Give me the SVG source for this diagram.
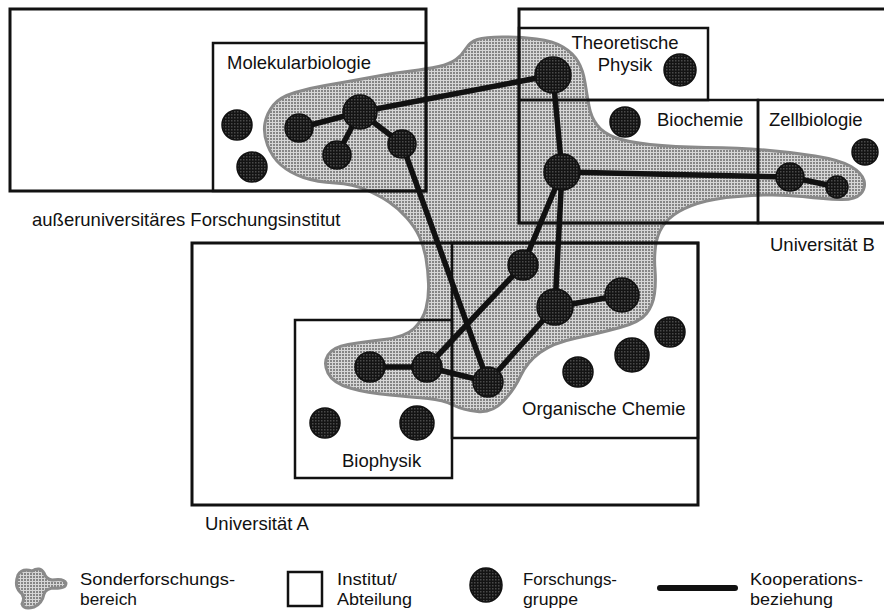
<svg xmlns="http://www.w3.org/2000/svg" width="884" height="610" viewBox="0 0 884 610">
<style>
.box{fill:none;stroke:#111;stroke-width:2.5}
.outer{fill:none;stroke:#111;stroke-width:3}
.grp{fill:url(#np);stroke:#111;stroke-width:1.5}
.lbl{font-family:"Liberation Sans",Arial,sans-serif;font-size:18.5px;fill:#111}
.leg{font-family:"Liberation Sans",Arial,sans-serif;font-size:17px;fill:#111}
.blob{fill:url(#bp);stroke:#8a8a8a;stroke-width:3;stroke-linejoin:round}
#connectors line{stroke:#111;stroke-width:5.5;stroke-linecap:round}
</style>
<defs>
<pattern id="np" width="3" height="3" patternUnits="userSpaceOnUse"><rect width="3" height="3" fill="#141414"/><rect width="1.5" height="1.5" fill="#4a4a4a"/></pattern>
<pattern id="bp" width="3" height="3" patternUnits="userSpaceOnUse"><rect width="3" height="3" fill="#d6d6d6"/><rect width="2" height="2" fill="#858585"/></pattern>
</defs>
<rect width="884" height="610" fill="#fff"/>

<g id="sfb">
<path class="blob" d="M 265 123 Q 267 113 273.5 105 Q 280 97 295 92.5 Q 310 88 325 85.5 Q 340 83 353.5 80.5 Q 367 78 381 75.5 Q 395 73 411 71 Q 427 69 438.5 66.5 Q 450 64 456 59.5 Q 462 55 466 48.5 Q 470 42 477.5 39.5 Q 485 37 502.5 37 Q 520 37 536.5 39 Q 553 41 563 47 Q 573 53 578 61.5 Q 583 70 585 82.5 Q 587 95 589 106 Q 591 117 597 125 Q 603 133 615 137.5 Q 627 142 650 144.5 Q 673 147 706.5 147.5 Q 740 148 765 150 Q 790 152 815 156 Q 840 160 851 166.5 Q 862 173 864 180.5 Q 866 188 860.5 194 Q 855 200 840 199.5 Q 825 199 802.5 196.5 Q 780 194 751.5 195.5 Q 723 197 706.5 201 Q 690 205 679 211.5 Q 668 218 662.5 226.5 Q 657 235 655.5 246.5 Q 654 258 655 270 Q 656 282 654.5 293.5 Q 653 305 646.5 313.5 Q 640 322 620 327.5 Q 600 333 576.5 338 Q 553 343 540 352.5 Q 527 362 520.5 376 Q 514 390 503 401.5 Q 492 413 477.5 411.5 Q 463 410 453 405 Q 443 400 428 398.5 Q 413 397 390 395 Q 367 393 350 388 Q 333 383 328 373 Q 323 363 328 355 Q 333 347 348 344.5 Q 363 342 384 339.5 Q 405 337 414 328.5 Q 423 320 426 308.5 Q 429 297 428.5 283.5 Q 428 270 426 258.5 Q 424 247 419.5 237 Q 415 227 406.5 217.5 Q 398 208 389 202 Q 380 196 366.5 190 Q 353 184 335 183 Q 317 182 303.5 177.5 Q 290 173 281 165 Q 272 157 267.5 145 Q 263 133 265 123 Z"/>
</g>

<g id="forschungsinstitut"><rect class="outer" x="10" y="9" width="416" height="182"/><text class="lbl" x="32" y="226">außeruniversitäres Forschungsinstitut</text></g>
<g id="molekularbiologie"><rect class="box" x="213" y="43" width="213" height="148"/><text class="lbl" x="227" y="69">Molekularbiologie</text></g>
<g id="universitaet-b"><rect class="outer" x="519" y="9" width="370" height="214"/><text class="lbl" x="770" y="251">Universität B</text></g>
<g id="theoretische-physik"><rect class="box" x="519" y="28" width="189" height="72"/><text class="lbl" x="625" y="49" text-anchor="middle">Theoretische</text><text class="lbl" x="625" y="71" text-anchor="middle">Physik</text></g>
<g id="biochemie"><rect class="box" x="519" y="100" width="239" height="123"/><text class="lbl" x="657" y="126">Biochemie</text></g>
<g id="zellbiologie"><rect class="box" x="758" y="100" width="130" height="123"/><text class="lbl" x="769" y="126">Zellbiologie</text></g>
<g id="universitaet-a"><rect class="outer" x="192" y="243" width="506" height="262"/><text class="lbl" x="205" y="530">Universität A</text></g>
<g id="organische-chemie"><rect class="box" x="452" y="243" width="246" height="195"/><text class="lbl" x="522" y="415">Organische Chemie</text></g>
<g id="biophysik"><rect class="box" x="295" y="320" width="157" height="158"/><text class="lbl" x="342" y="467">Biophysik</text></g>

<g id="connectors">
<line x1="299" y1="128" x2="360" y2="112"/>
<line x1="360" y1="112" x2="337" y2="155"/>
<line x1="360" y1="112" x2="402" y2="144"/>
<line x1="360" y1="112" x2="553" y2="75"/>
<line x1="402" y1="144" x2="488" y2="382"/>
<line x1="553" y1="75" x2="562" y2="172"/>
<line x1="562" y1="172" x2="790" y2="177"/>
<line x1="790" y1="177" x2="837" y2="187"/>
<line x1="562" y1="172" x2="523" y2="265"/>
<line x1="523" y1="265" x2="427" y2="367"/>
<line x1="562" y1="172" x2="555" y2="307"/>
<line x1="555" y1="307" x2="622" y2="295"/>
<line x1="555" y1="307" x2="488" y2="382"/>
<line x1="370" y1="367" x2="427" y2="367"/>
<line x1="427" y1="367" x2="488" y2="382"/>
</g>

<g id="g-mb1"><circle class="grp" cx="237" cy="125" r="15"/></g>
<g id="g-mb2"><circle class="grp" cx="252" cy="167" r="15"/></g>
<g id="g-mb3"><circle class="grp" cx="299" cy="128" r="14"/></g>
<g id="g-mb4"><circle class="grp" cx="360" cy="112" r="17"/></g>
<g id="g-mb5"><circle class="grp" cx="337" cy="155" r="14"/></g>
<g id="g-mb6"><circle class="grp" cx="402" cy="144" r="14"/></g>
<g id="g-tp1"><circle class="grp" cx="553" cy="75" r="18"/></g>
<g id="g-tp2"><circle class="grp" cx="680" cy="70" r="16"/></g>
<g id="g-bc1"><circle class="grp" cx="625" cy="122" r="15"/></g>
<g id="g-bc2"><circle class="grp" cx="562" cy="172" r="18"/></g>
<g id="g-zb1"><circle class="grp" cx="865" cy="152" r="13"/></g>
<g id="g-zb2"><circle class="grp" cx="790" cy="177" r="14"/></g>
<g id="g-zb3"><circle class="grp" cx="837" cy="187" r="11"/></g>
<g id="g-oc1"><circle class="grp" cx="523" cy="265" r="15"/></g>
<g id="g-oc2"><circle class="grp" cx="555" cy="307" r="18"/></g>
<g id="g-oc3"><circle class="grp" cx="622" cy="295" r="17"/></g>
<g id="g-oc4"><circle class="grp" cx="670" cy="332" r="15"/></g>
<g id="g-oc5"><circle class="grp" cx="632" cy="355" r="17"/></g>
<g id="g-oc6"><circle class="grp" cx="578" cy="372" r="15"/></g>
<g id="g-oc7"><circle class="grp" cx="488" cy="382" r="15"/></g>
<g id="g-bp1"><circle class="grp" cx="370" cy="367" r="15"/></g>
<g id="g-bp2"><circle class="grp" cx="427" cy="367" r="15"/></g>
<g id="g-bp3"><circle class="grp" cx="325" cy="423" r="15"/></g>
<g id="g-bp4"><circle class="grp" cx="417" cy="423" r="17"/></g>

<g id="legend">
<path class="blob" d="M 18 575 Q 22 568 32 571 Q 40 566 44 573 Q 46 579 52 580 Q 64 578 66 583 Q 66 589 55 588 Q 46 588 44 594 Q 42 604 34 607 Q 24 610 22 604 Q 26 596 20 592 Q 14 586 18 575 Z"/>
<text class="leg" x="80" y="585" textLength="155" lengthAdjust="spacingAndGlyphs">Sonderforschungs-</text>
<text class="leg" x="80" y="605" textLength="57" lengthAdjust="spacingAndGlyphs">bereich</text>
<rect class="box" x="288" y="572" width="34" height="34"/>
<text class="leg" x="337" y="585" textLength="60" lengthAdjust="spacingAndGlyphs">Institut/</text>
<text class="leg" x="337" y="605" textLength="75" lengthAdjust="spacingAndGlyphs">Abteilung</text>
<ellipse class="grp" cx="486" cy="585" rx="16" ry="17"/>
<text class="leg" x="523" y="585" textLength="94" lengthAdjust="spacingAndGlyphs">Forschungs-</text>
<text class="leg" x="523" y="605" textLength="55" lengthAdjust="spacingAndGlyphs">gruppe</text>
<line x1="660" y1="588" x2="735" y2="588" stroke="#111" stroke-width="6" stroke-linecap="round"/>
<text class="leg" x="750" y="585" textLength="113" lengthAdjust="spacingAndGlyphs">Kooperations-</text>
<text class="leg" x="750" y="605" textLength="83" lengthAdjust="spacingAndGlyphs">beziehung</text>
</g>
</svg>
